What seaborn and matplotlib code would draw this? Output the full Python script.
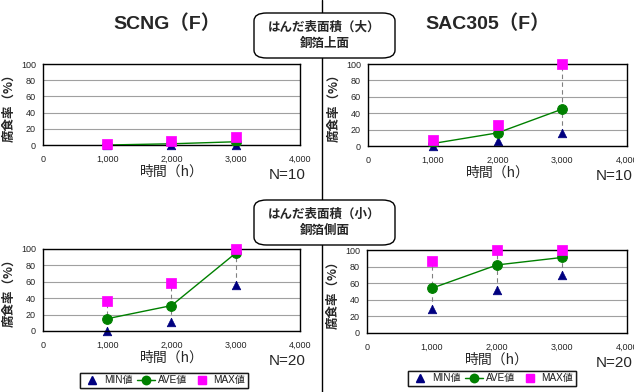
import matplotlib
matplotlib.use("Agg")
import matplotlib.pyplot as plt
import seaborn as sns
import pandas as pd
from matplotlib.patches import FancyBboxPatch
from matplotlib.lines import Line2D

sns.set_theme(style="white")
plt.rcParams['font.family'] = ['Liberation Sans', 'Noto Sans CJK JP', 'DejaVu Sans']

hours = [1000, 2000, 3000]
x_ticks = [0, 1000, 2000, 3000, 4000]
x_tick_labels = ["0", "1,000", "2,000", "3,000", "4,000"]
y_ticks = [0, 20, 40, 60, 80, 100]

# SCNG(F), large solder area
scng_large_min = [0, 0, 0]
scng_large_ave = [0, 1.5, 4]
scng_large_max = [1, 5, 10]
# SAC305(F), large solder area
sac_large_min = [0, 6, 16]
sac_large_ave = [3, 16, 45]
sac_large_max = [7, 26, 100]
# SCNG(F), small solder area
scng_small_min = [0, 11, 56]
scng_small_ave = [15, 31, 95]
scng_small_max = [36, 59, 100]
# SAC305(F), small solder area
sac_small_min = [29, 52, 70]
sac_small_ave = [54, 82, 91]
sac_small_max = [87, 100, 100]

titles = ["SCNG（F）", "SAC305（F）"]
box_labels = ["はんだ表面積（大）\n銅箔上面", "はんだ表面積（小）\n銅箔側面"]
n_labels = ["N=10", "N=20"]
xlabel = "時間（h）"
ylabel = "腐食率（%）"
legend_labels = ["MIN値", "AVE値", "MAX値"]

W, H = 634, 392
fig = plt.figure(figsize=(W / 100, H / 100), dpi=100)
fig.patch.set_facecolor("white")

def fx(x):
    return x / W

def fy(y):
    return 1 - y / H

MIN_C = "#000080"
AVE_C = "#008000"
MAX_C = "#FF00FF"

def panel(rect_px, mn, av, mx, n_label):
    x0, y0, x1, y1 = rect_px
    ax = fig.add_axes([fx(x0), fy(y1), (x1 - x0) / W, (y1 - y0) / H])
    df = pd.DataFrame({"h": hours, "min": mn, "ave": av, "max": mx})
    ax.vlines(df["h"], df["min"], df["max"], colors="#808080", linestyles=(0, (4, 3)), linewidth=0.8, zorder=1)
    sns.lineplot(data=df, x="h", y="ave", ax=ax, color=AVE_C, linewidth=1.0, marker="o",
                 markersize=7, markeredgecolor=AVE_C, zorder=3)
    sns.scatterplot(data=df, x="h", y="min", ax=ax, color=MIN_C, marker="^", s=38, edgecolor=MIN_C,
                    zorder=2, clip_on=False)
    sns.scatterplot(data=df, x="h", y="max", ax=ax, color=MAX_C, marker="s", s=42, edgecolor=MAX_C,
                    zorder=4, clip_on=False)
    ax.set_xlim(0, 4000)
    ax.set_ylim(0, 100)
    ax.set_xticks(x_ticks)
    ax.set_xticklabels(x_tick_labels, fontsize=6.5)
    ax.set_yticks(y_ticks)
    ax.set_yticklabels([str(v) for v in y_ticks], fontsize=6.5)
    ax.tick_params(axis="x", length=0, pad=7)
    ax.tick_params(axis="y", length=0, pad=5)
    ax.grid(axis="y", color="#A0A0A0", linewidth=0.8)
    ax.set_axisbelow(True)
    for s in ax.spines.values():
        s.set_color("black")
        s.set_linewidth(1.0)
    ax.set_xlabel(xlabel, fontsize=10, family=['Noto Sans CJK JP'], labelpad=1)
    ax.set_ylabel(ylabel, fontsize=9, fontweight="bold", family=['Noto Sans CJK JP'], labelpad=4)
    fig.text(fx(x1 - 13), fy(y1 + 30), n_label, fontsize=11, ha="center", va="center")
    return ax

panel((43, 64, 300, 145), scng_large_min, scng_large_ave, scng_large_max, n_labels[0])
panel((368, 64, 627, 146), sac_large_min, sac_large_ave, sac_large_max, n_labels[0])
panel((43, 249, 300, 331), scng_small_min, scng_small_ave, scng_small_max, n_labels[1])
panel((367, 250, 627, 333), sac_small_min, sac_small_ave, sac_small_max, n_labels[1])

# divider
fig.add_artist(Line2D([fx(322), fx(322)], [0, 1], color="black", linewidth=1.0, zorder=0))

# titles
fig.text(fx(167), fy(24), titles[0], fontsize=14, fontweight="bold", ha="center", va="center",
         family=['Liberation Sans', 'Noto Sans CJK JP'])
fig.text(fx(488), fy(24), titles[1], fontsize=14, fontweight="bold", ha="center", va="center",
         family=['Liberation Sans', 'Noto Sans CJK JP'])

# center boxes
for (yt, yb), lab in zip([(13, 58), (200, 245)], box_labels):
    bx = FancyBboxPatch((fx(254), fy(yb)), (395 - 254) / W, (yb - yt) / H,
                        boxstyle="round,pad=0,rounding_size=0.02", transform=fig.transFigure,
                        facecolor="white", edgecolor="black", linewidth=1.0, zorder=5)
    fig.add_artist(bx)
    fig.text(fx(324.5), fy((yt + yb) / 2), lab, fontsize=9, fontweight="bold", ha="center", va="center",
             family=['Noto Sans CJK JP'], linespacing=1.3, zorder=6)

# legends
handles = [
    Line2D([], [], color=MIN_C, marker="^", linestyle="none", markersize=6),
    Line2D([], [], color=AVE_C, marker="o", linestyle="-", markersize=6, linewidth=1.0),
    Line2D([], [], color=MAX_C, marker="s", linestyle="none", markersize=6),
]
for cx, cy in [(164, 380), (492, 378)]:
    leg = fig.legend(handles, legend_labels, loc="center", bbox_to_anchor=(fx(cx), fy(cy)), ncol=3,
                     frameon=True, fancybox=False, edgecolor="black",
                     handlelength=1.8, handletextpad=0.3, columnspacing=0.5, borderpad=0.25,
                     prop={'family': ['Liberation Sans', 'Noto Sans CJK JP'], 'size': 7.2})
    leg.get_frame().set_linewidth(1.0)
    fig.add_artist(leg)

fig.savefig("out.png", dpi=100, facecolor="white")
